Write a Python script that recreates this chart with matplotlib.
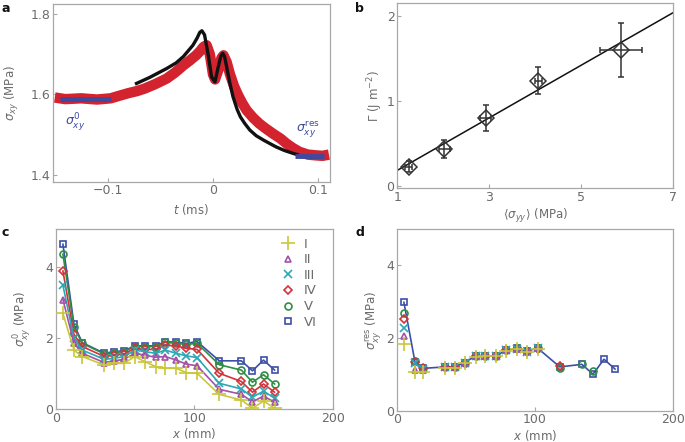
import matplotlib
matplotlib.use('Agg')
import matplotlib.pyplot as plt
from matplotlib.lines import Line2D

# ---- panel a: measured trace (band centre), model curve, plateaus
t_meas = [-0.150, -0.140, -0.125, -0.110, -0.097, -0.088, -0.080, -0.072, -0.065,
          -0.055, -0.044, -0.036, -0.028, -0.022, -0.016, -0.012, -0.009, -0.006,
          -0.003, 0.000, 0.002, 0.005, 0.008, 0.010, 0.013, 0.016, 0.020, 0.024,
          0.028, 0.032, 0.038, 0.044, 0.050, 0.057, 0.064, 0.070, 0.076, 0.082,
          0.090, 0.098, 0.104, 0.110]
s_meas = [1.592, 1.588, 1.590, 1.587, 1.590, 1.597, 1.603, 1.608, 1.614,
          1.625, 1.639, 1.654, 1.672, 1.684, 1.697, 1.708, 1.718, 1.722,
          1.700, 1.650, 1.637, 1.660, 1.690, 1.697, 1.680, 1.651, 1.620, 1.597,
          1.577, 1.560, 1.542, 1.527, 1.515, 1.502, 1.490, 1.477, 1.466, 1.457,
          1.450, 1.448, 1.447, 1.450]

t_model = [-0.0725, -0.060, -0.044, -0.035, -0.028, -0.019, -0.015, -0.0125, -0.0105,
           -0.008, -0.0044, -0.0013, 0.0019, 0.005, 0.0075, 0.0093, 0.011, 0.013,
           0.016, 0.019, 0.023, 0.026, 0.030, 0.035, 0.041, 0.048, 0.055, 0.060,
           0.068, 0.076, 0.080]
s_model = [1.627, 1.642, 1.664, 1.678, 1.694, 1.722, 1.740, 1.754, 1.758,
           1.748, 1.697, 1.643, 1.631, 1.668, 1.695, 1.702, 1.694, 1.668,
           1.628, 1.594, 1.562, 1.544, 1.528, 1.511, 1.497, 1.486, 1.476, 1.469,
           1.460, 1.453, 1.450]

t_plateau0 = [-0.145, -0.097]
s_plateau0 = [1.589, 1.589]
t_plateau_res = [0.078, 0.105]
s_plateau_res = [1.447, 1.447]

# ---- panel b
sig_yy = [1.25, 2.02, 2.93, 4.07, 5.87]
gamma = [0.22, 0.43, 0.80, 1.235, 1.60]
gamma_err = [0.065, 0.11, 0.155, 0.16, 0.32]
sig_err = [0.08, 0.12, 0.12, 0.08, 0.45]
fit_x = [1.0, 7.0]
fit_y = [0.18, 2.035]

# ---- panels c, d
x_mm = [5, 13, 19, 35, 42, 49, 57, 64, 72, 79, 87, 94, 102, 118, 134, 142, 150, 158]
labels = ['I', 'II', 'III', 'IV', 'V', 'VI']
colors = ['#c9c73a', '#a352a8', '#2aa8b4', '#d2323a', '#2f8f45', '#3d4fa6']
markers = ['+', '^', 'x', 'D', 'o', 's']
msizes = [10, 5, 6, 4.5, 5, 4.5]

sig0 = [
    [2.69, 1.66, 1.48, 1.24, 1.29, 1.29, 1.48, 1.34, 1.20, 1.15, 1.15, 1.03, 1.01, 0.42, 0.26, 0.03, 0.23, 0.03],
    [3.08, 1.85, 1.57, 1.31, 1.36, 1.40, 1.57, 1.52, 1.46, 1.48, 1.38, 1.27, 1.22, 0.56, 0.42, 0.21, 0.37, 0.20],
    [3.48, 1.99, 1.66, 1.40, 1.43, 1.48, 1.66, 1.62, 1.57, 1.66, 1.57, 1.50, 1.45, 0.73, 0.57, 0.34, 0.51, 0.31],
    [3.88, 2.10, 1.76, 1.48, 1.52, 1.55, 1.71, 1.68, 1.68, 1.80, 1.78, 1.71, 1.68, 1.01, 0.78, 0.48, 0.71, 0.48],
    [4.35, 2.30, 1.85, 1.55, 1.59, 1.62, 1.76, 1.76, 1.76, 1.88, 1.85, 1.82, 1.85, 1.25, 1.10, 0.76, 0.97, 0.71],
    [4.63, 2.38, 1.87, 1.57, 1.62, 1.64, 1.78, 1.78, 1.78, 1.90, 1.88, 1.85, 1.90, 1.36, 1.36, 1.08, 1.38, 1.10],
]

sig_res = [
    [1.84, 1.07, 1.07, 1.18, 1.18, 1.30, 1.48, 1.50, 1.50, 1.64, 1.69, 1.62, 1.70],
    [2.05, 1.12, 1.12, 1.20, 1.20, 1.32, 1.50, 1.50, 1.50, 1.66, 1.70, 1.63, 1.71],
    [2.26, 1.30, 1.14, 1.20, 1.20, 1.32, 1.50, 1.50, 1.50, 1.66, 1.70, 1.62, 1.71],
    [2.50, 1.34, 1.16, 1.20, 1.20, 1.32, 1.50, 1.50, 1.50, 1.66, 1.70, 1.60, 1.70, 1.22],
    [2.69, 1.36, 1.16, 1.20, 1.20, 1.32, 1.50, 1.50, 1.50, 1.66, 1.71, 1.64, 1.71, 1.18, 1.27, 1.10],
    [2.97, 1.34, 1.16, 1.20, 1.20, 1.32, 1.50, 1.50, 1.50, 1.66, 1.71, 1.64, 1.71, 1.20, 1.27, 1.00, 1.41, 1.14],
]

grey = '#6b6b6b'
spine_c = '#a8a8a8'
plt.rcParams['font.family'] = ['DejaVu Sans']
plt.rcParams['mathtext.fontset'] = 'dejavusans'

W, H = 685, 442
fig = plt.figure(figsize=(W / 100, H / 100), dpi=100)


def make_ax(l, r, t, b):
    ax = fig.add_axes([l / W, 1 - b / H, (r - l) / W, (b - t) / H])
    for s in ax.spines.values():
        s.set_color(spine_c)
        s.set_linewidth(0.9)
    ax.tick_params(direction='in', length=3, width=0.8, color=spine_c,
                   labelsize=9, labelcolor=grey, pad=2)
    return ax


# panel a
ax1 = make_ax(53, 330, 4, 181.7)
ax1.plot(t_meas, s_meas, color='#d2232f', lw=7.5, solid_capstyle='butt', solid_joinstyle='round')
ax1.plot(t_model, s_model, color='#111111', lw=2.4)
ax1.plot(t_plateau0, s_plateau0, color='#3e4a9e', lw=3.5, solid_capstyle='butt')
ax1.plot(t_plateau_res, s_plateau_res, color='#3e4a9e', lw=3.5, solid_capstyle='butt')
ax1.text(-0.140, 1.525, r'$\sigma_{xy}^{0}$', color='#3e4a9e', fontsize=9)
ax1.text(0.079, 1.508, r'$\sigma_{xy}^{\rm res}$', color='#3e4a9e', fontsize=9)
ax1.set_xlim(-0.1517, 0.111)
ax1.set_ylim(1.3826, 1.8246)
ax1.set_xticks([-0.1, 0, 0.1])
ax1.set_xticklabels(['\u22120.1', '0', '0.1'])
ax1.set_yticks([1.4, 1.6, 1.8])
ax1.set_xlabel(r'$t$ (ms)', fontsize=8.5, color=grey, labelpad=3)
ax1.set_ylabel(r'$\sigma_{xy}$ (MPa)', fontsize=8.5, color=grey, labelpad=7)

# panel b
ax2 = make_ax(397.3, 673, 3.3, 188.3)
ax2.plot(fit_x, fit_y, color='#111111', lw=1.1)
ax2.errorbar(sig_yy, gamma, yerr=gamma_err, xerr=sig_err, fmt='D', ms=8.5,
             mfc='none', mec='#333333', mew=1.1, ecolor='#333333', elinewidth=1.1,
             capsize=2.5, capthick=1.1)
ax2.set_xlim(1, 7)
ax2.set_ylim(-0.031, 2.146)
ax2.set_xticks([1, 3, 5, 7])
ax2.set_yticks([0, 1, 2])
ax2.set_xlabel(r'$\langle\sigma_{yy}\rangle$ (MPa)', fontsize=8.5, color=grey, labelpad=2)
ax2.set_ylabel(r'$\mathit{\Gamma}$ (J m$^{-2}$)', fontsize=8.5, color=grey, labelpad=1)

# panel c
ax3 = make_ax(56, 332.7, 229.3, 409.3)
for i in range(6):
    ax3.plot(x_mm, sig0[i], color=colors[i], lw=1.2, marker=markers[i], ms=msizes[i],
             mfc='none', mec=colors[i], mew=1.2, zorder=10 - i)
ax3.set_xlim(0, 200)
ax3.set_ylim(0, 5.05)
ax3.set_xticks([0, 100, 200])
ax3.set_yticks([0, 2, 4])
ax3.set_xlabel(r'$x$ (mm)', fontsize=8.5, color=grey, labelpad=1)
ax3.set_ylabel(r'$\sigma_{xy}^{0}$ (MPa)', fontsize=8.5, color=grey, labelpad=9)
handles = [Line2D([], [], ls='none', marker=markers[i], ms=msizes[i], mfc='none',
                  mec=colors[i], mew=1.2) for i in range(6)]
leg = ax3.legend(handles, labels, loc='upper right', bbox_to_anchor=(0.985, 1.02),
                 frameon=False, fontsize=9.5, handlelength=1.0, handletextpad=0.7,
                 labelspacing=0.2, labelcolor=grey)

# panel d
ax4 = make_ax(397, 673, 229.3, 410.7)
for i in range(6):
    n = len(sig_res[i])
    ax4.plot(x_mm[:n], sig_res[i], ls='-' if i == 5 else 'none', color=colors[i], lw=1.2,
             marker=markers[i], ms=msizes[i], mfc='none', mec=colors[i], mew=1.2,
             zorder=10 - i)
ax4.set_xlim(0, 200)
ax4.set_ylim(0, 4.97)
ax4.set_xticks([0, 100, 200])
ax4.set_yticks([0, 2, 4])
ax4.set_xlabel(r'$x$ (mm)', fontsize=8.5, color=grey, labelpad=1)
ax4.set_ylabel(r'$\sigma_{xy}^{\rm res}$ (MPa)', fontsize=8.5, color=grey, labelpad=2)

# panel letters
for lab, px, py in [('a', 2, 12), ('b', 355, 12), ('c', 2, 236), ('d', 355, 236)]:
    fig.text(px / W, 1 - py / H, lab, fontsize=9, fontweight='bold', color='#111111')

fig.savefig('out.png', dpi=100)
